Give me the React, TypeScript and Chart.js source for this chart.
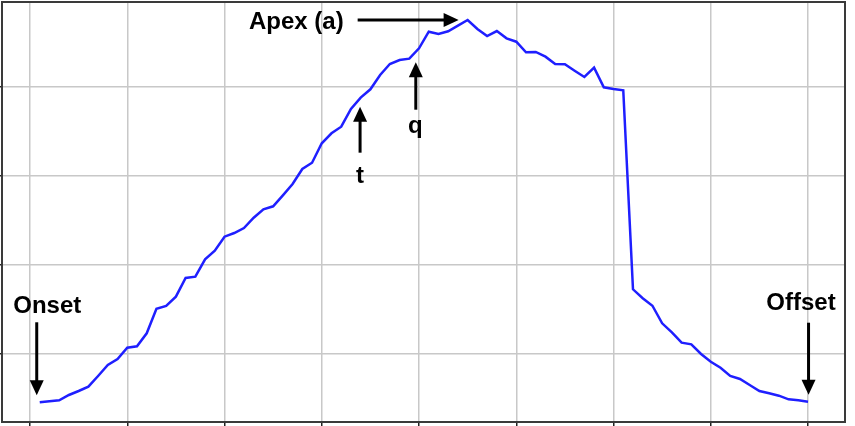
import React, { useEffect, useRef } from "react";
import { Chart, registerables } from "chart.js";

Chart.register(...registerables);

const FRAMES = [
  1, 2, 3, 4, 5, 6, 7, 8, 9, 10, 11, 12, 13, 14, 15, 16, 17, 18, 19, 20,
  21, 22, 23, 24, 25, 26, 27, 28, 29, 30, 31, 32, 33, 34, 35, 36, 37, 38, 39, 40,
  41, 42, 43, 44, 45, 46, 47, 48, 49, 50, 51, 52, 53, 54, 55, 56, 57, 58, 59, 60,
  61, 62, 63, 64, 65, 66, 67, 68, 69, 70, 71, 72, 73, 74, 75, 76, 77, 78, 79, 80,
];

const SIGNAL = [
  9.15, 9.37, 9.6, 10.79, 11.69, 12.65, 15.06, 17.53, 18.88, 21.42,
  21.73, 24.65, 30.18, 30.79, 32.88, 37.08, 37.37, 41.28, 43.21, 46.36,
  47.19, 48.31, 50.63, 52.51, 53.19, 55.66, 58.2, 61.57, 62.99, 67.35,
  69.6, 71.08, 75.06, 77.6, 79.48, 82.7, 85.17, 86.07, 86.36, 88.7,
  92.43, 91.91, 92.52, 93.78, 95.06, 93.03, 91.46, 92.58, 90.94, 90.18,
  87.8, 87.87, 86.81, 85.17, 85.1, 83.66, 82.25, 84.34, 79.93, 79.55,
  79.26, 34.54, 32.52, 30.85, 26.9, 24.88, 22.54, 22.18, 20.0, 18.27,
  16.92, 15.06, 14.38, 13.03, 11.69, 11.17, 10.63, 9.82, 9.6, 9.28,
];

const X_TICKS = [0, 10, 20, 30, 40, 50, 60, 70, 80];
const Y_TICKS = [20, 40, 60, 80];
const X_MIN = -2.88;
const X_MAX = 83.8;
const Y_MIN = 4.72;
const Y_MAX = 99.1;

const MARK_LABELS = ["Onset", "t", "q", "Apex (a)", "Offset"];
const MARK_INDEX = [0, 33, 38, 44, 79];

const FONT = "bold 24px 'Liberation Sans', Arial, sans-serif";

function arrowHead(ctx: CanvasRenderingContext2D, tx: number, ty: number, dir: "up" | "down" | "right") {
  const L = 15;
  const W = 7;
  ctx.beginPath();
  if (dir === "down") {
    ctx.moveTo(tx, ty);
    ctx.lineTo(tx - W, ty - L);
    ctx.lineTo(tx + W, ty - L);
  } else if (dir === "up") {
    ctx.moveTo(tx, ty);
    ctx.lineTo(tx - W, ty + L);
    ctx.lineTo(tx + W, ty + L);
  } else {
    ctx.moveTo(tx, ty);
    ctx.lineTo(tx - L, ty - W);
    ctx.lineTo(tx - L, ty + W);
  }
  ctx.closePath();
  ctx.fill();
}

function vArrow(ctx: CanvasRenderingContext2D, x: number, y1: number, y2: number) {
  // from y1 (tail) to y2 (tip)
  const dir = y2 > y1 ? "down" : "up";
  const stop = dir === "down" ? y2 - 12 : y2 + 12;
  ctx.beginPath();
  ctx.moveTo(x, y1);
  ctx.lineTo(x, stop);
  ctx.stroke();
  arrowHead(ctx, x, y2, dir);
}

const framePlugin = {
  id: "framePlugin",
  beforeDatasetsDraw(chart: any) {
    const { ctx, chartArea } = chart;
    ctx.save();
    ctx.strokeStyle = "#3a3a3a";
    ctx.lineWidth = 2;
    ctx.strokeRect(chartArea.left, chartArea.top, chartArea.right - chartArea.left, chartArea.bottom - chartArea.top);
    ctx.restore();
  },
};

const markPlugin = {
  id: "markPlugin",
  afterDatasetsDraw(chart: any) {
    const { ctx, scales } = chart;
    const xs = scales.x;
    const ys = scales.y;
    ctx.save();
    ctx.fillStyle = "#000";
    ctx.strokeStyle = "#000";
    ctx.lineWidth = 3;
    ctx.font = FONT;
    MARK_LABELS.forEach((label, k) => {
      const i = MARK_INDEX[k];
      const px = xs.getPixelForValue(FRAMES[i]);
      const py = ys.getPixelForValue(SIGNAL[i]);
      if (k === 0) {
        vArrow(ctx, px - 3, py - 80, py - 7);
        ctx.textAlign = "center";
        ctx.textBaseline = "alphabetic";
        ctx.fillText(label, px + 7.5, py - 89);
      } else if (k === 4) {
        vArrow(ctx, px + 0.5, py - 79, py - 7);
        ctx.textAlign = "center";
        ctx.textBaseline = "alphabetic";
        ctx.fillText(label, px - 7, py - 92);
      } else if (k === 1) {
        vArrow(ctx, px - 0.6, py + 55, py + 9);
        ctx.textAlign = "center";
        ctx.textBaseline = "alphabetic";
        ctx.fillText(label, px - 0.6, py + 85);
      } else if (k === 2) {
        vArrow(ctx, px + 6.5, py + 51, py + 3.5);
        ctx.textAlign = "center";
        ctx.textBaseline = "alphabetic";
        ctx.fillText(label, px + 6, py + 74);
      } else if (k === 3) {
        const y = py;
        ctx.beginPath();
        ctx.moveTo(px - 110, y);
        ctx.lineTo(px - 21, y);
        ctx.stroke();
        arrowHead(ctx, px - 9, y, "right");
        ctx.textAlign = "right";
        ctx.textBaseline = "alphabetic";
        ctx.fillText(label, px - 124, y + 9.5);
      }
    });
    ctx.restore();
  },
};

export default function App() {
  const canvasRef = useRef<HTMLCanvasElement | null>(null);

  useEffect(() => {
    if (!canvasRef.current) return;
    const chart = new Chart(canvasRef.current, {
      type: "line",
      data: {
        datasets: [
          {
            data: FRAMES.map((f, i) => ({ x: f, y: SIGNAL[i] })),
            borderColor: "#1f1fff",
            borderWidth: 2.5,
            pointRadius: 0,
            tension: 0,
            fill: false,
          },
        ],
      },
      options: {
        animation: false,
        responsive: true,
        maintainAspectRatio: false,
        layout: { padding: { top: 2, right: 10, left: 0, bottom: 0 } },
        plugins: {
          legend: { display: false },
          tooltip: { enabled: false },
        },
        events: [],
        scales: {
          x: {
            type: "linear",
            min: X_MIN,
            max: X_MAX,
            afterBuildTicks: (s: any) => {
              s.ticks = X_TICKS.map((v) => ({ value: v }));
            },
            afterFit: (s: any) => {
              s.height = 4;
            },
            ticks: { display: false },
            grid: {
              color: "#c8c8c8",
              lineWidth: 1.5,
              drawTicks: true,
              tickLength: 4,
              tickColor: "#222",
              tickWidth: 1.5,
            },
            border: { display: false },
          },
          y: {
            type: "linear",
            min: Y_MIN,
            max: Y_MAX,
            afterBuildTicks: (s: any) => {
              s.ticks = Y_TICKS.map((v) => ({ value: v }));
            },
            afterFit: (s: any) => {
              s.width = 2;
            },
            ticks: { display: false },
            grid: {
              color: "#c8c8c8",
              lineWidth: 1.5,
              drawTicks: true,
              tickLength: 2,
              tickColor: "#222",
              tickWidth: 1.5,
            },
            border: { display: false },
          },
        },
      },
      plugins: [framePlugin, markPlugin],
    });
    return () => chart.destroy();
  }, []);

  return (
    <div style={{ position: "absolute", left: 0, top: 0, width: 855, height: 426, background: "#fff" }}>
      <canvas ref={canvasRef} />
    </div>
  );
}
